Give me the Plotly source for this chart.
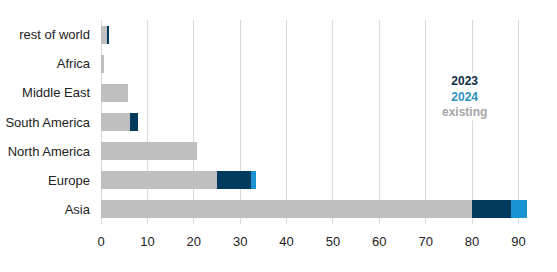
import plotly.graph_objects as go

categories = ["Asia", "Europe", "North America", "South America", "Middle East", "Africa", "rest of world"]
existing = [80.0, 25.0, 20.8, 6.2, 5.9, 0.7, 1.2]
added_2023 = [8.4, 7.3, 0.0, 1.8, 0.0, 0.0, 0.6]
added_2024 = [3.4, 1.2, 0.0, 0.0, 0.0, 0.0, 0.0]
tick_vals = [0, 10, 20, 30, 40, 50, 60, 70, 80, 90]

fig = go.Figure()
fig.add_trace(go.Bar(y=categories, x=existing, orientation="h", name="existing",
                     marker=dict(color="#BFBFBF", line=dict(width=0))))
fig.add_trace(go.Bar(y=categories, x=added_2023, orientation="h", name="2023",
                     marker=dict(color="#003A5C", line=dict(width=0))))
fig.add_trace(go.Bar(y=categories, x=added_2024, orientation="h", name="2024",
                     marker=dict(color="#1A93D3", line=dict(width=0))))

fig.update_layout(
    barmode="stack",
    bargap=0.38,
    width=557, height=272,
    margin=dict(l=101, r=27, t=20, b=48),
    paper_bgcolor="white", plot_bgcolor="white",
    showlegend=False,
    font=dict(family="Liberation Sans, Arial, sans-serif", size=13, color="#222222"),
    xaxis=dict(range=[0, 92.5], tickvals=tick_vals, showgrid=True, gridcolor="#D9D9D9",
               gridwidth=1, zeroline=True, zerolinecolor="#D9D9D9", zerolinewidth=1,
               showline=False, ticks="", ticklabelstandoff=8,
               tickfont=dict(size=13, color="#222222")),
    yaxis=dict(showgrid=False, ticks="", ticklen=0, showline=False, ticklabelstandoff=10,
               tickfont=dict(size=13, color="#222222"), automargin=False),
)

fig.add_annotation(
    x=78.4, y=0.627, xref="x", yref="paper",
    text="<span style='color:#0F2E45'><b>2023</b></span><br>"
         "<span style='color:#2A90BE'><b>2024</b></span><br>"
         "<span style='color:#A6A6A6'><b>existing</b></span>",
    showarrow=False, bgcolor="white", align="center",
    font=dict(size=12, family="Liberation Sans, Arial, sans-serif"),
)

fig.write_html("out.html")
